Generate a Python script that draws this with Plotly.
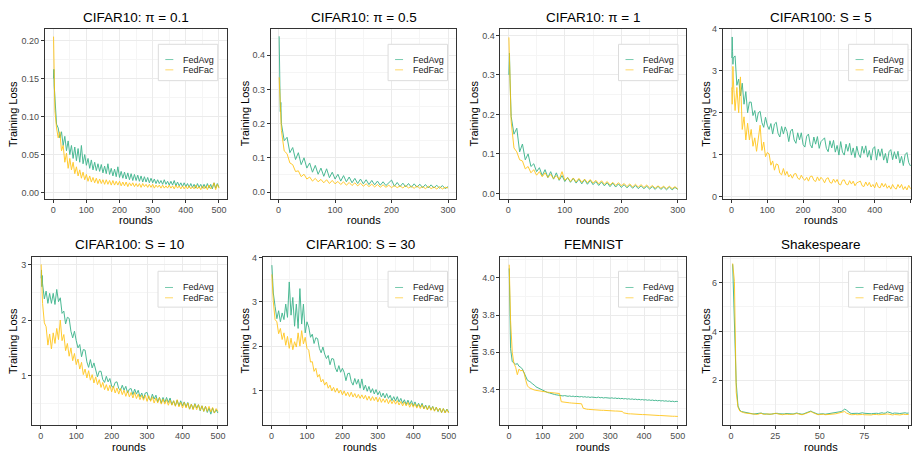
import plotly.graph_objects as go

W, H = 912, 459
FONT = "Liberation Sans, Arial, sans-serif"
GREEN = "#1FA97A"
YELLOW = "#FFBF00"

# ---------------- data ----------------
rounds500 = [1, 2, 3, 4] + list(range(5, 501, 5))
rounds300 = [1, 2, 3, 4] + list(range(5, 301, 5))
rounds100 = list(range(1, 101))

c10_01_fedavg = [0.150, 0.162, 0.140, 0.132,
    0.128, 0.090, 0.085, 0.072, 0.080, 0.062, 0.074, 0.055, 0.068, 0.050,
    0.062, 0.045, 0.060, 0.042, 0.058, 0.040, 0.062, 0.038, 0.050, 0.036,
    0.045, 0.032, 0.043, 0.030, 0.040, 0.029, 0.038, 0.028, 0.037, 0.026,
    0.035, 0.025, 0.038, 0.024, 0.032, 0.022, 0.031, 0.021, 0.034, 0.020,
    0.028, 0.019, 0.027, 0.018, 0.026, 0.017, 0.025, 0.016, 0.024, 0.016,
    0.023, 0.015, 0.022, 0.014, 0.021, 0.014, 0.020, 0.013, 0.019, 0.013,
    0.018, 0.012, 0.017, 0.012, 0.016, 0.011, 0.017, 0.011, 0.015, 0.010,
    0.015, 0.010, 0.016, 0.009, 0.014, 0.009, 0.013, 0.008, 0.013, 0.008,
    0.012, 0.007, 0.012, 0.007, 0.011, 0.006, 0.012, 0.007, 0.011, 0.006,
    0.011, 0.006, 0.012, 0.006, 0.011, 0.005, 0.013, 0.006, 0.012, 0.007]
c10_01_fedfac = [0.205, 0.160, 0.152, 0.120,
    0.108, 0.085, 0.072, 0.080, 0.055, 0.062, 0.040, 0.052, 0.032, 0.045,
    0.030, 0.040, 0.025, 0.034, 0.022, 0.030, 0.019, 0.027, 0.017, 0.024,
    0.015, 0.022, 0.014, 0.020, 0.013, 0.019, 0.012, 0.018, 0.012, 0.017,
    0.011, 0.017, 0.011, 0.016, 0.010, 0.016, 0.010, 0.015, 0.010, 0.015,
    0.009, 0.014, 0.009, 0.014, 0.008, 0.013, 0.009, 0.013, 0.008, 0.012,
    0.008, 0.012, 0.007, 0.012, 0.008, 0.011, 0.007, 0.011, 0.007, 0.011,
    0.006, 0.010, 0.007, 0.010, 0.006, 0.010, 0.006, 0.009, 0.006, 0.010,
    0.006, 0.009, 0.005, 0.010, 0.006, 0.009, 0.005, 0.009, 0.005, 0.009,
    0.005, 0.009, 0.005, 0.008, 0.005, 0.010, 0.005, 0.008, 0.004, 0.009,
    0.005, 0.009, 0.004, 0.010, 0.005, 0.008, 0.013, 0.004, 0.011, 0.006]

c10_05_fedavg = [0.455, 0.300, 0.235, 0.262,
    0.200, 0.150, 0.160, 0.115, 0.130, 0.095, 0.115, 0.080, 0.100, 0.070,
    0.085, 0.058, 0.078, 0.052, 0.070, 0.046, 0.068, 0.042, 0.058, 0.038,
    0.052, 0.032, 0.048, 0.030, 0.044, 0.027, 0.040, 0.025, 0.038, 0.024,
    0.036, 0.022, 0.034, 0.021, 0.032, 0.020, 0.030, 0.019, 0.028, 0.035,
    0.017, 0.028, 0.016, 0.026, 0.015, 0.025, 0.014, 0.024, 0.014, 0.023,
    0.013, 0.022, 0.012, 0.021, 0.012, 0.020, 0.011, 0.019, 0.010, 0.016]
c10_05_fedfac = [0.335, 0.300, 0.255, 0.215,
    0.180, 0.120, 0.112, 0.085, 0.080, 0.060, 0.062, 0.045, 0.052, 0.038,
    0.044, 0.032, 0.040, 0.030, 0.037, 0.027, 0.036, 0.025, 0.034, 0.024,
    0.031, 0.022, 0.030, 0.020, 0.028, 0.019, 0.027, 0.018, 0.026, 0.017,
    0.024, 0.016, 0.023, 0.015, 0.022, 0.014, 0.021, 0.014, 0.020, 0.013,
    0.019, 0.013, 0.018, 0.012, 0.019, 0.012, 0.017, 0.011, 0.018, 0.011,
    0.016, 0.010, 0.017, 0.010, 0.015, 0.009, 0.016, 0.009, 0.014, 0.012]

c10_1_fedavg = [0.300, 0.355, 0.290, 0.230,
    0.195, 0.150, 0.165, 0.105, 0.125, 0.085, 0.100, 0.068, 0.075, 0.055,
    0.065, 0.045, 0.060, 0.040, 0.055, 0.036, 0.052, 0.033, 0.045, 0.030,
    0.040, 0.028, 0.038, 0.026, 0.036, 0.024, 0.035, 0.023, 0.033, 0.022,
    0.030, 0.020, 0.029, 0.019, 0.027, 0.017, 0.026, 0.016, 0.024, 0.015,
    0.022, 0.014, 0.021, 0.013, 0.020, 0.012, 0.019, 0.012, 0.018, 0.011,
    0.017, 0.010, 0.018, 0.010, 0.016, 0.009, 0.016, 0.009, 0.015, 0.010]
c10_1_fedfac = [0.395, 0.330, 0.265, 0.215,
    0.182, 0.115, 0.105, 0.085, 0.082, 0.062, 0.068, 0.052, 0.060, 0.046,
    0.055, 0.042, 0.052, 0.040, 0.048, 0.037, 0.045, 0.035, 0.055, 0.033,
    0.040, 0.030, 0.039, 0.029, 0.038, 0.028, 0.036, 0.027, 0.035, 0.026,
    0.033, 0.024, 0.032, 0.023, 0.030, 0.021, 0.028, 0.020, 0.027, 0.019,
    0.025, 0.017, 0.024, 0.016, 0.023, 0.016, 0.022, 0.015, 0.021, 0.014,
    0.020, 0.013, 0.019, 0.013, 0.018, 0.012, 0.018, 0.012, 0.017, 0.011]

c100_5_fedavg = [3.30, 3.80, 3.45, 3.15,
    3.30, 3.35, 2.65, 2.80, 2.40, 2.70, 2.20, 2.50, 2.00, 2.25,
    2.25, 1.93, 2.05, 1.78, 2.00, 2.03, 1.76, 1.65, 1.89, 1.70,
    1.60, 1.74, 1.49, 1.73, 1.77, 1.51, 1.42, 1.67, 1.49, 1.66,
    1.55, 1.31, 1.56, 1.61, 1.35, 1.27, 1.52, 1.35, 1.52, 1.24,
    1.18, 1.44, 1.49, 1.24, 1.16, 1.42, 1.25, 1.43, 1.15, 1.31,
    1.35, 1.40, 1.15, 1.07, 1.33, 1.16, 1.34, 1.06, 1.22, 0.99,
    1.31, 1.06, 0.99, 1.25, 1.08, 1.27, 0.99, 1.16, 0.93, 1.20,
    1.01, 0.93, 1.20, 1.03, 1.21, 0.94, 1.10, 0.87, 1.14, 1.19,
    0.87, 1.13, 0.96, 1.14, 0.87, 1.03, 0.80, 1.07, 1.12, 0.88,
    1.07, 0.90, 1.08, 0.80, 0.96, 0.74, 1.00, 1.05, 0.81, 0.73]
c100_5_fedfac = [2.60, 2.20, 2.55, 3.10,
    2.80, 2.05, 2.60, 2.00, 2.85, 1.60, 1.90, 1.35, 1.75, 1.35,
    1.60, 1.20, 1.40, 1.08, 1.40, 1.70, 1.10, 1.30, 0.95, 1.05,
    1.02, 0.75, 0.85, 0.63, 0.78, 0.76, 0.56, 0.52, 0.67, 0.51,
    0.60, 0.47, 0.53, 0.44, 0.54, 0.55, 0.44, 0.41, 0.51, 0.43,
    0.39, 0.46, 0.37, 0.48, 0.49, 0.39, 0.36, 0.47, 0.38, 0.46,
    0.41, 0.33, 0.43, 0.45, 0.34, 0.32, 0.42, 0.34, 0.41, 0.30,
    0.28, 0.39, 0.40, 0.30, 0.28, 0.38, 0.30, 0.37, 0.26, 0.33,
    0.35, 0.37, 0.26, 0.24, 0.35, 0.26, 0.34, 0.23, 0.29, 0.21,
    0.34, 0.23, 0.21, 0.32, 0.23, 0.31, 0.20, 0.26, 0.18, 0.29,
    0.21, 0.18, 0.29, 0.21, 0.29, 0.17, 0.24, 0.16, 0.27, 0.19]

c100_10_fedavg = [2.75, 2.90, 2.60, 2.80,
    2.65, 2.38, 2.52, 2.30, 2.48, 2.30, 2.48, 2.28, 2.55, 2.33,
    2.40, 2.12, 2.16, 1.93, 2.05, 2.03, 1.80, 1.68, 1.80, 1.63,
    1.50, 1.56, 1.34, 1.47, 1.46, 1.25, 1.15, 1.29, 1.14, 1.23,
    1.12, 0.98, 1.08, 1.08, 0.93, 0.88, 0.99, 0.89, 0.95, 0.81,
    0.79, 0.88, 0.89, 0.77, 0.74, 0.83, 0.74, 0.81, 0.69, 0.76,
    0.77, 0.66, 0.76, 0.67, 0.74, 0.62, 0.69, 0.59, 0.69, 0.70,
    0.59, 0.56, 0.67, 0.58, 0.65, 0.53, 0.61, 0.51, 0.61, 0.52,
    0.61, 0.52, 0.60, 0.48, 0.55, 0.46, 0.56, 0.46, 0.55, 0.46,
    0.53, 0.44, 0.52, 0.40, 0.49, 0.40, 0.50, 0.42, 0.48, 0.37,
    0.46, 0.36, 0.45, 0.34, 0.42, 0.31, 0.42, 0.33, 0.39, 0.33]
c100_10_fedfac = [3.00, 2.75, 2.55, 2.40,
    2.30, 1.95, 1.88, 1.55, 1.75, 1.48, 1.77, 1.58, 1.85, 1.65,
    2.00, 1.63, 1.74, 1.45, 1.58, 1.35, 1.50, 1.27, 1.40, 1.20,
    1.30, 1.12, 1.24, 1.02, 1.12, 0.96, 1.09, 0.92, 1.02, 0.87,
    0.98, 0.84, 0.93, 0.79, 0.88, 0.75, 0.84, 0.73, 0.83, 0.71,
    0.81, 0.69, 0.78, 0.67, 0.77, 0.66, 0.74, 0.63, 0.73, 0.62,
    0.70, 0.60, 0.70, 0.59, 0.67, 0.57, 0.65, 0.56, 0.65, 0.54,
    0.64, 0.54, 0.62, 0.51, 0.60, 0.51, 0.61, 0.49, 0.58, 0.49,
    0.57, 0.47, 0.56, 0.47, 0.55, 0.45, 0.57, 0.44, 0.52, 0.42,
    0.52, 0.42, 0.51, 0.40, 0.49, 0.39, 0.49, 0.39, 0.48, 0.38,
    0.46, 0.36, 0.45, 0.36, 0.45, 0.35, 0.43, 0.33, 0.41, 0.36]

c100_30_fedavg = [3.83, 3.65, 3.50, 3.35,
    3.20, 2.90, 2.62, 2.80, 2.55, 2.75, 2.60, 2.95, 2.65, 3.45,
    2.70, 3.10, 2.45, 2.95, 2.40, 3.30, 2.50, 2.95, 2.30, 2.55,
    2.43, 2.20, 2.27, 2.06, 2.19, 2.17, 1.95, 1.85, 1.98, 1.82,
    1.72, 1.79, 1.58, 1.72, 1.71, 1.51, 1.42, 1.56, 1.41, 1.50,
    1.41, 1.22, 1.38, 1.39, 1.20, 1.12, 1.27, 1.14, 1.25, 1.05,
    1.26, 1.01, 1.12, 0.98, 1.09, 0.95, 1.04, 0.92, 1.02, 0.90,
    0.98, 0.85, 0.94, 0.83, 0.93, 0.82, 0.89, 0.77, 0.86, 0.76,
    0.86, 0.74, 0.82, 0.71, 0.79, 0.68, 0.78, 0.68, 0.77, 0.65,
    0.74, 0.63, 0.71, 0.62, 0.71, 0.59, 0.67, 0.57, 0.66, 0.56,
    0.64, 0.54, 0.62, 0.52, 0.60, 0.50, 0.59, 0.50, 0.58, 0.51]
c100_30_fedfac = [3.62, 3.45, 3.30, 3.15,
    3.00, 2.60, 2.55, 2.28, 2.40, 2.15, 2.30, 2.02, 2.22, 1.95,
    2.18, 1.92, 2.10, 1.98, 2.30, 2.00, 2.35, 2.05, 2.20, 1.95,
    1.91, 1.64, 1.65, 1.43, 1.50, 1.30, 1.36, 1.19, 1.25, 1.12,
    1.19, 1.05, 1.12, 0.99, 1.07, 0.96, 1.05, 0.94, 1.01, 0.90,
    0.99, 0.88, 0.96, 0.86, 0.96, 0.85, 0.93, 0.83, 0.91, 0.82,
    0.90, 0.81, 0.89, 0.78, 0.87, 0.77, 0.86, 0.77, 0.85, 0.74,
    0.84, 0.73, 0.81, 0.73, 0.81, 0.70, 0.79, 0.70, 0.78, 0.69,
    0.77, 0.67, 0.75, 0.65, 0.74, 0.65, 0.73, 0.62, 0.71, 0.62,
    0.70, 0.60, 0.68, 0.59, 0.68, 0.58, 0.65, 0.56, 0.65, 0.55,
    0.63, 0.53, 0.62, 0.53, 0.60, 0.50, 0.59, 0.49, 0.57, 0.49]

femnist_fedavg = [4.05, 3.90, 3.99, 3.85,
    3.62, 3.55, 3.545, 3.535, 3.54, 3.525, 3.52, 3.51, 3.49, 3.465,
    3.45, 3.445, 3.44, 3.43, 3.425, 3.415, 3.41, 3.405, 3.40, 3.395,
    3.39, 3.388, 3.384, 3.382, 3.378, 3.376, 3.374, 3.372, 3.370, 3.368,
    3.367, 3.366, 3.368, 3.365, 3.364, 3.366, 3.363, 3.365, 3.362, 3.364,
    3.362, 3.361, 3.363, 3.360, 3.362, 3.359, 3.361, 3.358, 3.360, 3.358,
    3.359, 3.357, 3.360, 3.356, 3.358, 3.355, 3.357, 3.355, 3.356, 3.354,
    3.356, 3.353, 3.355, 3.352, 3.354, 3.351, 3.353, 3.350, 3.352, 3.349,
    3.351, 3.348, 3.350, 3.347, 3.349, 3.346, 3.348, 3.345, 3.347, 3.344,
    3.346, 3.343, 3.345, 3.342, 3.344, 3.341, 3.343, 3.340, 3.342, 3.339,
    3.341, 3.338, 3.340, 3.337, 3.339, 3.336, 3.338, 3.335, 3.337, 3.336]
femnist_fedfac = [4.07, 4.00, 4.02, 3.92,
    3.77, 3.60, 3.54, 3.52, 3.48, 3.51, 3.50, 3.505, 3.49, 3.45,
    3.42, 3.41, 3.405, 3.40, 3.398, 3.396, 3.394, 3.392, 3.390, 3.389,
    3.388, 3.387, 3.386, 3.385, 3.384, 3.383, 3.382, 3.381, 3.380, 3.379,
    3.335, 3.333, 3.332, 3.331, 3.330, 3.329, 3.328, 3.327, 3.327, 3.326,
    3.325, 3.325, 3.324, 3.300, 3.296, 3.295, 3.294, 3.293, 3.293, 3.292,
    3.291, 3.291, 3.290, 3.290, 3.289, 3.289, 3.288, 3.288, 3.287, 3.287,
    3.286, 3.286, 3.285, 3.285, 3.284, 3.284, 3.283, 3.275, 3.272, 3.271,
    3.270, 3.270, 3.269, 3.269, 3.268, 3.268, 3.267, 3.267, 3.266, 3.266,
    3.265, 3.265, 3.264, 3.264, 3.263, 3.263, 3.262, 3.262, 3.261, 3.261,
    3.260, 3.260, 3.259, 3.259, 3.258, 3.258, 3.257, 3.257, 3.256, 3.256]

shakespeare_fedavg = [6.75, 4.65, 1.90, 0.95, 0.78, 0.72, 0.70, 0.68, 0.67, 0.66,
    0.64, 0.63, 0.62, 0.63, 0.61, 0.64, 0.66, 0.63, 0.62, 0.64,
    0.63, 0.61, 0.62, 0.64, 0.66, 0.65, 0.63, 0.62, 0.61, 0.62,
    0.64, 0.63, 0.62, 0.60, 0.62, 0.64, 0.66, 0.64, 0.62, 0.61,
    0.63, 0.65, 0.67, 0.72, 0.74, 0.70, 0.66, 0.63, 0.61, 0.62,
    0.64, 0.63, 0.61, 0.62, 0.64, 0.66, 0.67, 0.65, 0.66, 0.68,
    0.70, 0.72, 0.76, 0.82, 0.78, 0.70, 0.66, 0.64, 0.65, 0.66,
    0.65, 0.64, 0.66, 0.67, 0.65, 0.64, 0.66, 0.65, 0.63, 0.64,
    0.66, 0.65, 0.64, 0.66, 0.67, 0.65, 0.66, 0.71, 0.68, 0.65,
    0.64, 0.66, 0.67, 0.65, 0.64, 0.66, 0.68, 0.67, 0.65, 0.66]
shakespeare_fedfac = [6.78, 6.05, 1.50, 0.90, 0.74, 0.70, 0.68, 0.66, 0.65, 0.64,
    0.62, 0.61, 0.60, 0.62, 0.60, 0.63, 0.65, 0.62, 0.60, 0.62,
    0.61, 0.60, 0.61, 0.63, 0.65, 0.63, 0.61, 0.60, 0.59, 0.61,
    0.62, 0.61, 0.60, 0.59, 0.61, 0.62, 0.64, 0.62, 0.60, 0.59,
    0.61, 0.63, 0.66, 0.70, 0.72, 0.68, 0.64, 0.61, 0.59, 0.60,
    0.62, 0.61, 0.59, 0.60, 0.62, 0.63, 0.64, 0.62, 0.63, 0.65,
    0.66, 0.68, 0.70, 0.72, 0.66, 0.62, 0.60, 0.59, 0.61, 0.60,
    0.59, 0.60, 0.61, 0.60, 0.59, 0.58, 0.60, 0.59, 0.58, 0.60,
    0.61, 0.60, 0.59, 0.60, 0.61, 0.59, 0.60, 0.62, 0.61, 0.59,
    0.58, 0.60, 0.61, 0.59, 0.58, 0.60, 0.61, 0.60, 0.59, 0.60]

titles = ["CIFAR10: π = 0.1", "CIFAR10: π = 0.5", "CIFAR10: π = 1", "CIFAR100: S = 5",
          "CIFAR100: S = 10", "CIFAR100: S = 30", "FEMNIST", "Shakespeare"]
series_names = ["FedAvg", "FedFac"]
panels_data = [
    (rounds500, c10_01_fedavg, c10_01_fedfac),
    (rounds300, c10_05_fedavg, c10_05_fedfac),
    (rounds300, c10_1_fedavg, c10_1_fedfac),
    (rounds500, c100_5_fedavg, c100_5_fedfac),
    (rounds500, c100_10_fedavg, c100_10_fedfac),
    (rounds500, c100_30_fedavg, c100_30_fedfac),
    (rounds500, femnist_fedavg, femnist_fedfac),
    (rounds100, shakespeare_fedavg, shakespeare_fedfac),
]

# ---------------- layout geometry (pixels) ----------------
panel_px = [
    (45, 227.5, 24, 197), (271, 457, 24, 197), (501, 687, 24, 197), (723.5, 912, 24, 197),
    (32, 227, 256, 427), (263, 458, 256.5, 427), (501, 687, 256, 427), (723.5, 912, 256, 427),
]
x_ranges = [[-24.95, 524.95], [-13.95, 314.95], [-13.95, 314.95], [-24.55, 501.4],
            [-24.95, 524.95], [-24.95, 524.95], [-24.95, 524.95], [-4.6, 101.3]]
y_ranges = [[-0.0077, 0.2155], [-0.019, 0.4775], [-0.0132, 0.4174], [-0.045, 4.0],
            [0.123, 3.141], [0.229, 4.013], [3.2125, 4.114], [0.188, 7.064]]
x_dticks = [100, 100, 100, 100, 100, 100, 100, 25]
y_dticks = [0.05, 0.1, 0.1, 1, 1, 1, 0.2, 2]
y_tick0 = [0, 0, 0, 0, 0, 0, 3.4, 0]
y_formats = [".2f", ".1f", ".1f", "d", "d", "d", ".1f", "d"]
legend_right = [218, 448, 678.7, 909, 217.7, 448, 678.7, 909]
ylabel_x = [12.5, 245, 474.5, 706, 12.5, 245, 474.5, 706]


def px(x):
    return x / W


def py(y):
    return 1 - y / H


fig = go.Figure()
layout = dict(
    width=W, height=H, margin=dict(l=0, r=0, t=0, b=0), autosize=False,
    plot_bgcolor="white", paper_bgcolor="white", showlegend=False,
    font=dict(family=FONT, size=9, color="#4d4d4d"),
)
annotations = []
shapes = []

for i in range(8):
    k = "" if i == 0 else str(i + 1)
    x0, x1, y0, y1 = panel_px[i]
    rounds, fa, ff = panels_data[i]
    for name, vals, col in [(series_names[0], fa, GREEN), (series_names[1], ff, YELLOW)]:
        fig.add_trace(go.Scatter(
            x=rounds, y=vals, mode="lines", name=name,
            line=dict(color=col, width=1), opacity=0.8,
            xaxis="x" + k, yaxis="y" + k, hoverinfo="skip", showlegend=False,
        ))
    common = dict(showline=True, mirror=True, linecolor="#333333", linewidth=1,
                  ticks="outside", ticklen=3, tickwidth=1, tickcolor="#333333",
                  showgrid=True, gridcolor="#ebebeb", gridwidth=1, zeroline=False,
                  tickfont=dict(family=FONT, size=9, color="#4d4d4d"))
    layout["xaxis" + k] = dict(
        domain=[px(x0), px(x1)], anchor="y" + k, range=x_ranges[i],
        tick0=0, dtick=x_dticks[i], ticklabeloverflow="hide past div",
        minor=dict(dtick=x_dticks[i] / 2, tick0=0, showgrid=True, gridcolor="#f5f5f5", gridwidth=1, ticks=""),
        **common)
    layout["yaxis" + k] = dict(
        domain=[py(y1), py(y0)], anchor="x" + k, range=y_ranges[i],
        tick0=y_tick0[i], dtick=y_dticks[i], tickformat=y_formats[i],
        minor=dict(dtick=y_dticks[i] / 2, tick0=y_tick0[i], showgrid=True, gridcolor="#f5f5f5", gridwidth=1, ticks=""),
        **common)

    row1 = i < 4
    xc = (x0 + (x1 if i % 4 != 3 else 920.5)) / 2
    annotations.append(dict(text=titles[i], x=px(xc),
                            y=py(12.5 if row1 else 243.5), xref="paper", yref="paper",
                            xanchor="center", yanchor="middle", showarrow=False,
                            font=dict(family=FONT, size=13.5, color="black")))
    annotations.append(dict(text="rounds", x=px(xc),
                            y=py(218.5 if row1 else 449.5), xref="paper", yref="paper",
                            xanchor="center", yanchor="middle", showarrow=False,
                            font=dict(family=FONT, size=11, color="black")))
    annotations.append(dict(text="Training Loss", x=px(ylabel_x[i]), y=py((y0 + y1) / 2),
                            xref="paper", yref="paper", textangle=-90,
                            xanchor="center", yanchor="middle", showarrow=False,
                            font=dict(family=FONT, size=11, color="black")))
    # legend box
    br = legend_right[i]
    bl = br - 59.5
    bt, bb = (40, 77) if row1 else (271, 307.5)
    rows = (55.5, 66) if row1 else (287.5, 298)
    shapes.append(dict(type="rect", xref="paper", yref="paper",
                       x0=px(bl), x1=px(br), y0=py(bb), y1=py(bt),
                       fillcolor="white", line=dict(color="#dcdcdc", width=1), layer="above"))
    for name, col, ry in [(series_names[0], GREEN, rows[0]), (series_names[1], YELLOW, rows[1])]:
        shapes.append(dict(type="line", xref="paper", yref="paper",
                           x0=px(bl + 7), x1=px(bl + 15), y0=py(ry), y1=py(ry),
                           line=dict(color=col, width=1), opacity=0.6, layer="above"))
        annotations.append(dict(text=name, x=px(bl + 22.5), y=py(ry), xref="paper", yref="paper",
                                xanchor="left", yanchor="middle", showarrow=False,
                                font=dict(family=FONT, size=9, color="#1a1a1a")))

layout["annotations"] = annotations
layout["shapes"] = shapes
fig.update_layout(**layout)

POST = ("document.documentElement.style.margin='0px';document.body.style.margin='0px';"
        "document.documentElement.style.overflow='hidden';document.body.style.overflow='hidden';")
fig.write_html("out.html", post_script=POST,
               config={"displayModeBar": False, "responsive": False})
